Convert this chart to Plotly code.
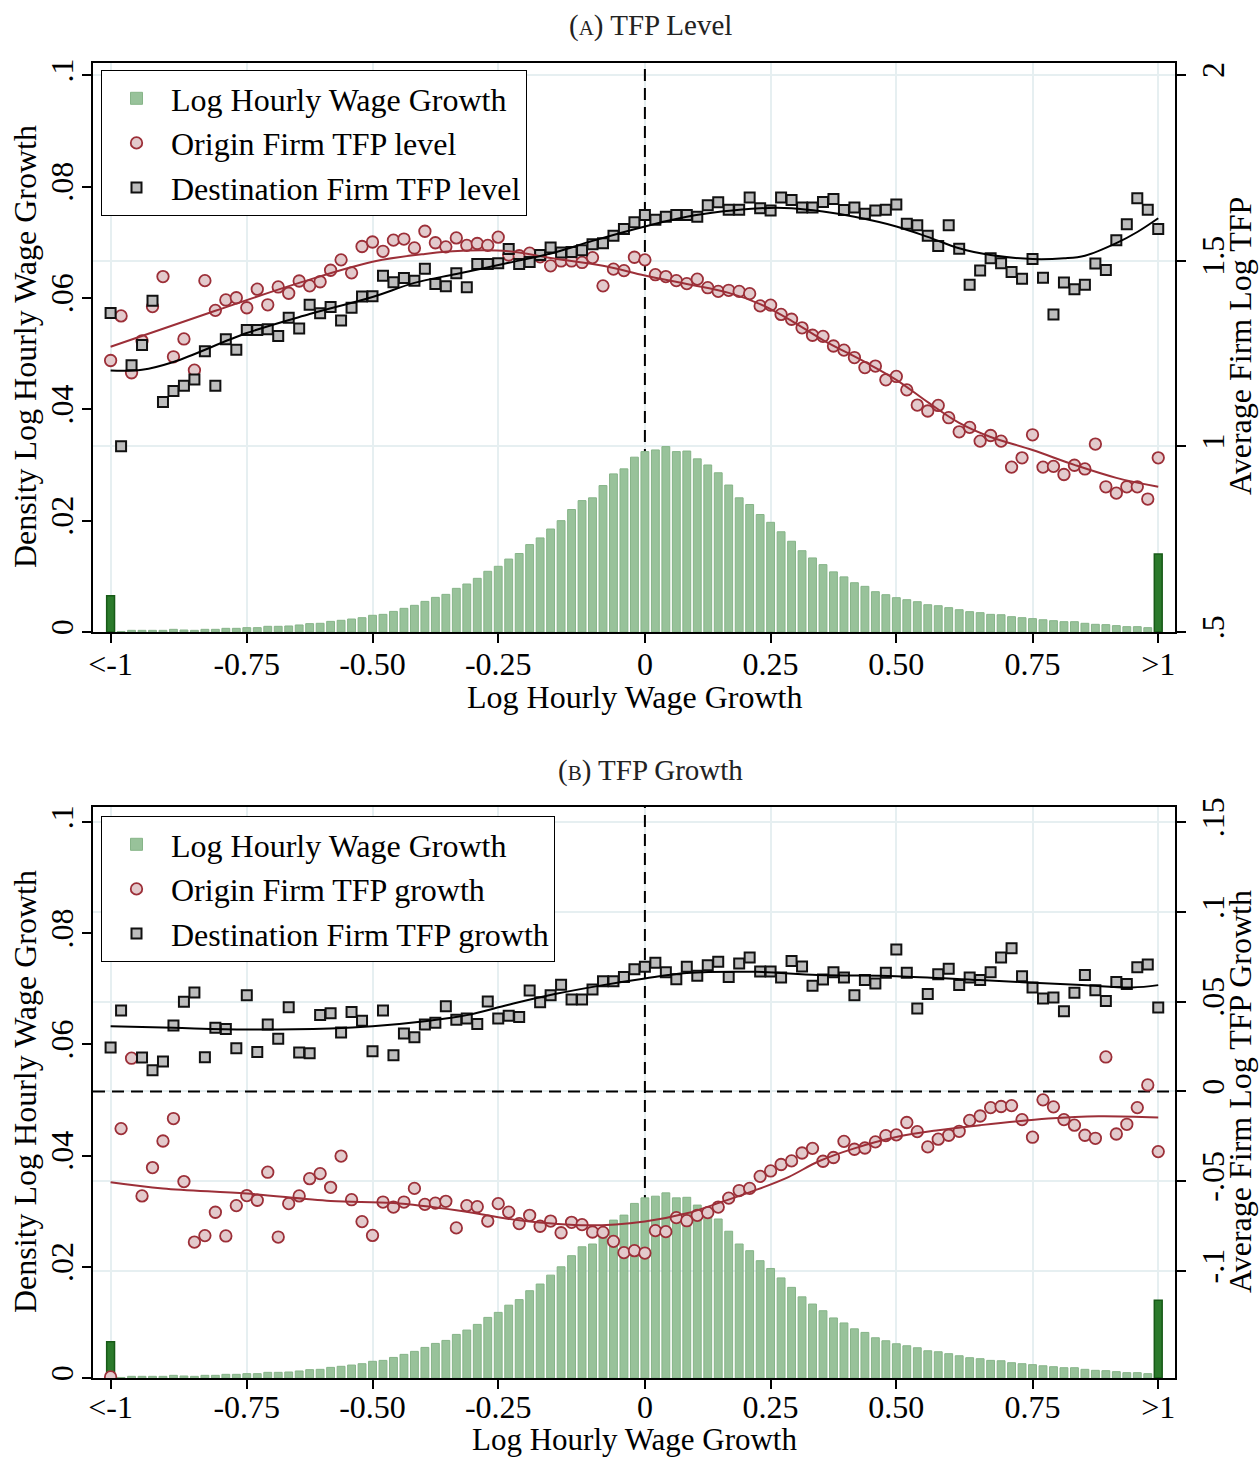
import plotly.graph_objects as go

# ---------------- data ----------------
bins = list(range(101))  # histogram bin index (0 = "<-1", 100 = ">1")
tick_pos = [0, 13, 25, 37, 51, 63, 75, 88, 100]
tick_text = ["&lt;-1", "-0.75", "-0.50", "-0.25", "0", "0.25", "0.50", "0.75", "&gt;1"]
zero_bin = 51  # bin index of a log wage growth of 0

left_ticks = [0, 0.02, 0.04, 0.06, 0.08, 0.1]
left_text = ["0", ".02", ".04", ".06", ".08", ".1"]
level_ticks = [0.5, 1, 1.5, 2]
level_text = [".5", "1", "1.5", "2"]
growth_ticks = [-0.1, -0.05, 0, 0.05, 0.1, 0.15]
growth_text = ["-.1", "-.05", "0", ".05", ".1", ".15"]

density = [0.0065, 0.0001, 0.0003, 0.0003, 0.0003, 0.0003, 0.00048, 0.00036, 0.0003, 0.00048,
           0.00048, 0.00066, 0.00066, 0.00078, 0.00078, 0.00102, 0.00102, 0.00108, 0.00126, 0.0015,
           0.00156, 0.00191, 0.0021, 0.00233, 0.00257, 0.0030, 0.00317, 0.0037, 0.00425, 0.00479,
           0.0055, 0.00622, 0.00676, 0.00784, 0.00862, 0.00964, 0.0109, 0.0118, 0.0131, 0.0141,
           0.0157, 0.0169, 0.0185, 0.0200, 0.0220, 0.0236, 0.0241, 0.0263, 0.0284, 0.0293,
           0.0314, 0.0324, 0.0327, 0.0333, 0.0324, 0.0325, 0.0311, 0.0300, 0.0286, 0.0264,
           0.0241, 0.0229, 0.0211, 0.0197, 0.0180, 0.0163, 0.0146, 0.0133, 0.0121, 0.0108,
           0.0099, 0.00885, 0.0082, 0.00724, 0.0067, 0.00616, 0.0058, 0.00544, 0.0049, 0.00472,
           0.00437, 0.0040, 0.00365, 0.00347, 0.00317, 0.0031, 0.00275, 0.00257, 0.0024, 0.0022,
           0.00203, 0.00185, 0.00185, 0.00156, 0.00138, 0.00132, 0.00114, 0.00096, 0.00096, 0.00078,
           0.0140]

origin_level = [1.231, 1.351, 1.198, 1.284, 1.376, 1.457, 1.241, 1.289, 1.205, 1.446,
                1.366, 1.394, 1.400, 1.373, 1.423, 1.381, 1.429, 1.412, 1.445, 1.432,
                1.443, 1.474, 1.502, 1.467, 1.538, 1.550, 1.525, 1.555, 1.558, 1.534,
                1.579, 1.548, 1.537, 1.561, 1.541, 1.546, 1.541, 1.563, 1.515, 1.513,
                1.520, 1.510, 1.486, 1.499, 1.499, 1.495, 1.508, 1.432, 1.477, 1.473,
                1.509, 1.502, 1.462, 1.457, 1.446, 1.438, 1.450, 1.427, 1.417, 1.420,
                1.417, 1.411, 1.378, 1.380, 1.355, 1.342, 1.319, 1.299, 1.296, 1.270,
                1.259, 1.239, 1.212, 1.216, 1.179, 1.188, 1.152, 1.111, 1.095, 1.110,
                1.077, 1.039, 1.051, 1.014, 1.029, 1.014, 0.944, 0.969, 1.031, 0.944,
                0.946, 0.924, 0.949, 0.939, 1.006, 0.891, 0.874, 0.891, 0.891, 0.858,
                0.969]

dest_level = [1.359, 1.000, 1.218, 1.273, 1.392, 1.119, 1.149, 1.163, 1.180, 1.256,
              1.163, 1.288, 1.260, 1.313, 1.313, 1.315, 1.297, 1.346, 1.317, 1.381,
              1.358, 1.375, 1.339, 1.373, 1.403, 1.404, 1.459, 1.442, 1.453, 1.446,
              1.478, 1.437, 1.431, 1.466, 1.428, 1.491, 1.491, 1.493, 1.531, 1.491,
              1.496, 1.515, 1.535, 1.522, 1.523, 1.528, 1.544, 1.547, 1.567, 1.585,
              1.603, 1.623, 1.610, 1.618, 1.623, 1.623, 1.618, 1.649, 1.657, 1.637,
              1.637, 1.670, 1.641, 1.635, 1.670, 1.663, 1.643, 1.643, 1.658, 1.666,
              1.636, 1.643, 1.626, 1.635, 1.637, 1.651, 1.599, 1.595, 1.567, 1.539,
              1.595, 1.532, 1.435, 1.473, 1.506, 1.493, 1.469, 1.451, 1.504, 1.454,
              1.355, 1.441, 1.423, 1.435, 1.492, 1.475, 1.555, 1.598, 1.668, 1.637,
              1.585]

fit_origin_level_x = [0, 10, 18, 25, 30, 34, 38, 42, 47, 51, 55, 59, 62, 65, 68, 72, 75, 78, 81, 84, 88, 92, 96, 100]
fit_origin_level_y = [1.268, 1.365, 1.440, 1.497, 1.518, 1.527, 1.525, 1.507, 1.486, 1.460, 1.437, 1.413,
                      1.383, 1.338, 1.286, 1.227, 1.179, 1.119, 1.063, 1.025, 0.990, 0.950, 0.915, 0.891]
fit_dest_level_x = [0, 3, 6, 13, 19, 25, 29, 33, 38, 42.4, 46, 51, 55, 58.3, 62, 65, 68, 71, 75, 78, 81, 84, 88, 91, 93, 96, 98, 100]
fit_dest_level_y = [1.204, 1.206, 1.227, 1.305, 1.356, 1.402, 1.440, 1.464, 1.494, 1.522, 1.553, 1.592,
                    1.618, 1.632, 1.641, 1.641, 1.632, 1.618, 1.592, 1.564, 1.533, 1.515, 1.504, 1.506,
                    1.513, 1.547, 1.577, 1.614]

origin_growth = [-0.159, -0.0207, 0.0185, -0.0582, -0.0424, -0.0276, -0.0151, -0.0502, -0.0839, -0.0803,
                 -0.0673, -0.0805, -0.0636, -0.0580, -0.0606, -0.0450, -0.0811, -0.0625, -0.0582, -0.0486,
                 -0.0458, -0.0534, -0.0360, -0.0603, -0.0725, -0.0802, -0.0616, -0.0644, -0.0616, -0.0540,
                 -0.0629, -0.0622, -0.0612, -0.0760, -0.0636, -0.0642, -0.0722, -0.0625, -0.0672, -0.0736,
                 -0.0690, -0.0751, -0.0722, -0.0787, -0.0729, -0.0742, -0.0783, -0.0785, -0.0835, -0.0898,
                 -0.0887, -0.0900, -0.0775, -0.0781, -0.0703, -0.0720, -0.0690, -0.0675, -0.0644, -0.0594,
                 -0.0552, -0.0540, -0.0473, -0.0443, -0.0407, -0.0387, -0.0343, -0.0317, -0.0389, -0.0368,
                 -0.0278, -0.0322, -0.0315, -0.0281, -0.0246, -0.0242, -0.0173, -0.0224, -0.0309, -0.0266,
                 -0.0244, -0.0222, -0.0161, -0.0137, -0.0090, -0.0084, -0.0079, -0.0157, -0.0255, -0.0047,
                 -0.0086, -0.0157, -0.0188, -0.0244, -0.0261, 0.0192, -0.0237, -0.0183, -0.0090, 0.0036,
                 -0.0335]

dest_growth = [0.0245, 0.0451, 0.0765, 0.0189, 0.0118, 0.0167, 0.0367, 0.0499, 0.0551, 0.0191,
               0.0354, 0.0348, 0.0241, 0.0535, 0.0219, 0.0373, 0.0293, 0.0469, 0.0217, 0.0213,
               0.0426, 0.0436, 0.0328, 0.0443, 0.0393, 0.0224, 0.0451, 0.0202, 0.0323, 0.0302,
               0.0373, 0.0382, 0.0475, 0.0399, 0.0406, 0.0375, 0.0501, 0.0406, 0.0421, 0.0414,
               0.0562, 0.0497, 0.0535, 0.0594, 0.0512, 0.0512, 0.0568, 0.0614, 0.0614, 0.0637,
               0.0681, 0.0694, 0.0716, 0.0663, 0.0625, 0.0694, 0.0644, 0.0703, 0.0722, 0.0637,
               0.0713, 0.0746, 0.0668, 0.0668, 0.0635, 0.0727, 0.0696, 0.0588, 0.0624, 0.0664,
               0.0635, 0.0535, 0.0620, 0.0601, 0.0661, 0.0791, 0.0661, 0.0462, 0.0542, 0.0652,
               0.0683, 0.0592, 0.0635, 0.0620, 0.0663, 0.0746, 0.0797, 0.0642, 0.0579, 0.0518,
               0.0523, 0.0447, 0.0549, 0.0648, 0.0564, 0.0503, 0.0609, 0.0598, 0.0691, 0.0707,
               0.0468]

fit_origin_growth_x = [0, 5, 13, 21, 27, 33, 39, 45.6, 51, 55, 58.3, 61.5, 64.7, 67.6, 71, 75, 79, 83, 89.5, 94.3, 100]
fit_origin_growth_y = [-0.0506, -0.0541, -0.0569, -0.0610, -0.0622, -0.0662, -0.0718, -0.0746, -0.0724,
                       -0.0679, -0.0616, -0.0551, -0.0477, -0.0389, -0.0317, -0.0254, -0.0216, -0.0188,
                       -0.0151, -0.0138, -0.0145]
fit_dest_growth_x = [0, 6, 13, 21, 25, 30, 34, 38, 42.4, 47, 51, 55, 61.5, 67.5, 75, 83, 92.7, 97.5, 100]
fit_dest_growth_y = [0.0363, 0.0354, 0.0345, 0.0351, 0.0363, 0.0391, 0.0425, 0.0483, 0.0542, 0.0592,
                     0.0629, 0.0659, 0.0666, 0.0648, 0.0642, 0.0620, 0.0592, 0.0579, 0.0592]

# ---------------- styling ----------------
FONT = "Liberation Serif, Times New Roman, serif"
LIGHT_GREEN = "#98c29a"
LIGHT_GREEN_EDGE = "#86b488"
DARK_GREEN = "#2b7a2b"
DARK_GREEN_EDGE = "#175a17"
RED = "#9c2f38"
PINK = "#e3cacc"
GRAY = "#bdbdbd"
GRID = "#e6eff1"
DASH = "12px,7px"
W, H = 1260, 1458

x_range = [-1.68, 101.6]
densA_range = [0, 0.1022]
level_range = [0.5, 2.032]
densB_range = [0, 0.1027]
growth_range = [-0.1596, 0.1584]


def px(v):
    return v / W


def py(v):
    return 1 - v / H


fig = go.Figure()


def add_panel(xa, yl, yr, legend, origin, dest, fo_x, fo_y, fd_x, fd_y,
              origin_name, dest_name, zero_hline):
    inner = bins[1:100]
    fig.add_trace(go.Bar(x=inner, y=density[1:100], width=0.75, name="Log Hourly Wage Growth",
                         marker=dict(color=LIGHT_GREEN, line=dict(color=LIGHT_GREEN_EDGE, width=1)),
                         xaxis=xa, yaxis=yl, legend=legend))
    fig.add_trace(go.Bar(x=[bins[0], bins[100]], y=[density[0], density[100]], width=0.75,
                         marker=dict(color=DARK_GREEN, line=dict(color=DARK_GREEN_EDGE, width=1.5)),
                         showlegend=False, xaxis=xa, yaxis=yl, legend=legend))
    if zero_hline:
        fig.add_trace(go.Scatter(x=x_range, y=[0, 0], mode="lines",
                                 line=dict(color="black", width=2, dash=DASH), hoverinfo="skip",
                                 showlegend=False, xaxis=xa, yaxis=yr, legend=legend))
    fig.add_trace(go.Scatter(x=bins, y=origin, mode="markers", name=origin_name,
                             marker=dict(symbol="circle", size=11.5, color=PINK,
                                         line=dict(color=RED, width=1.8)),
                             xaxis=xa, yaxis=yr, legend=legend))
    fig.add_trace(go.Scatter(x=bins, y=dest, mode="markers", name=dest_name,
                             marker=dict(symbol="square", size=10, color=GRAY,
                                         line=dict(color="#111111", width=2)),
                             xaxis=xa, yaxis=yr, legend=legend))
    fig.add_trace(go.Scatter(x=fo_x, y=fo_y, mode="lines", line=dict(color=RED, width=2, shape="spline"),
                             showlegend=False, xaxis=xa, yaxis=yr, legend=legend))
    fig.add_trace(go.Scatter(x=fd_x, y=fd_y, mode="lines", line=dict(color="black", width=2, shape="spline"),
                             showlegend=False, xaxis=xa, yaxis=yr, legend=legend))


add_panel("x", "y", "y2", "legend", origin_level, dest_level,
          fit_origin_level_x, fit_origin_level_y, fit_dest_level_x, fit_dest_level_y,
          "Origin Firm TFP level", "Destination Firm TFP level", False)
add_panel("x2", "y3", "y4", "legend2", origin_growth, dest_growth,
          fit_origin_growth_x, fit_origin_growth_y, fit_dest_growth_x, fit_dest_growth_y,
          "Origin Firm TFP growth", "Destination Firm TFP growth", True)

tickfont = dict(family=FONT, size=32, color="black")
xdom = [px(93), px(1175)]
domA = [py(632), py(63)]
domB = [py(1378), py(807)]

xcommon = dict(domain=xdom, range=x_range, tickmode="array", tickvals=tick_pos, ticktext=tick_text,
               ticks="outside", ticklen=9, tickwidth=1.5, tickcolor="black",
               showline=True, linecolor="black", linewidth=2, mirror=True,
               showgrid=True, gridcolor=GRID, gridwidth=1.5, zeroline=False,
               tickfont=tickfont, automargin=False, fixedrange=True)
ycommon = dict(ticks="outside", ticklen=9, tickwidth=1.5, tickcolor="black", tickangle=-90,
               showline=True, linecolor="black", linewidth=2, zeroline=False,
               tickfont=tickfont, automargin=False, tickmode="array", fixedrange=True)

legend_common = dict(xanchor="left", yanchor="top", bgcolor="white",
                     bordercolor="black", borderwidth=1, font=dict(family=FONT, size=32, color="black"),
                     itemwidth=59, tracegroupgap=0)

fig.update_layout(
    width=W, height=H, margin=dict(l=0, r=0, t=0, b=0),
    paper_bgcolor="white", plot_bgcolor="white", barmode="overlay",
    font=dict(family=FONT, color="black"),
    xaxis=dict(anchor="y", ticklabelstandoff=-6, **xcommon),
    xaxis2=dict(anchor="y3", ticklabelstandoff=-9, **xcommon),
    yaxis=dict(domain=domA, anchor="x", range=densA_range, tickvals=left_ticks, ticktext=left_text,
               showgrid=False, ticklabelstandoff=-4, **ycommon),
    yaxis2=dict(overlaying="y", side="right", anchor="x", range=level_range,
                tickvals=level_ticks, ticktext=level_text,
                showgrid=True, gridcolor=GRID, gridwidth=1.5, **ycommon),
    yaxis3=dict(domain=domB, anchor="x2", range=densB_range, tickvals=left_ticks, ticktext=left_text,
                showgrid=False, ticklabelstandoff=-4, **ycommon),
    yaxis4=dict(overlaying="y3", side="right", anchor="x2", range=growth_range,
                tickvals=growth_ticks, ticktext=growth_text,
                showgrid=True, gridcolor=GRID, gridwidth=1.5, **ycommon),
    legend=dict(x=px(101), y=py(70), **legend_common),
    legend2=dict(x=px(101), y=py(816), **legend_common),
    shapes=[
        # vertical dashed line at zero wage growth, between gridlines and bars
        dict(type="line", xref="x", yref="y", x0=zero_bin, x1=zero_bin,
             y0=densA_range[0], y1=densA_range[1], layer="between",
             line=dict(color="black", width=2, dash=DASH)),
        dict(type="line", xref="x2", yref="y3", x0=zero_bin, x1=zero_bin,
             y0=densB_range[0], y1=densB_range[1], layer="between",
             line=dict(color="black", width=2, dash=DASH)),
    ],
)

ann_font = dict(family=FONT, size=32, color="black")
title_font = dict(family=FONT, size=29, color="#222222")
annotations = [
    dict(text="(<span style='font-size:21px'>A</span>) TFP Level", x=px(650), y=py(25), font=title_font),
    dict(text="(<span style='font-size:21px'>B</span>) TFP Growth", x=px(650), y=py(770), font=title_font),
    dict(text="Log Hourly Wage Growth", x=px(634), y=py(697), font=ann_font),
    dict(text="Log Hourly Wage Growth", x=px(634), y=py(1439), font=dict(family=FONT, size=31, color="black")),
    dict(text="Density Log Hourly Wage Growth", x=px(25), y=py(347), textangle=-90, font=ann_font),
    dict(text="Average Firm Log TFP", x=px(1240), y=py(346), textangle=-90, font=ann_font),
    dict(text="Density Log Hourly Wage Growth", x=px(25), y=py(1092), textangle=-90, font=ann_font),
    dict(text="Average Firm Log TFP Growth", x=px(1240), y=py(1092), textangle=-90, font=ann_font),
]
for a in annotations:
    a.update(xref="paper", yref="paper", showarrow=False, xanchor="center", yanchor="middle")
fig.update_layout(annotations=annotations)

fig.write_html("out.html", config={"displayModeBar": False},
               post_script="document.body.style.margin='0px';")
